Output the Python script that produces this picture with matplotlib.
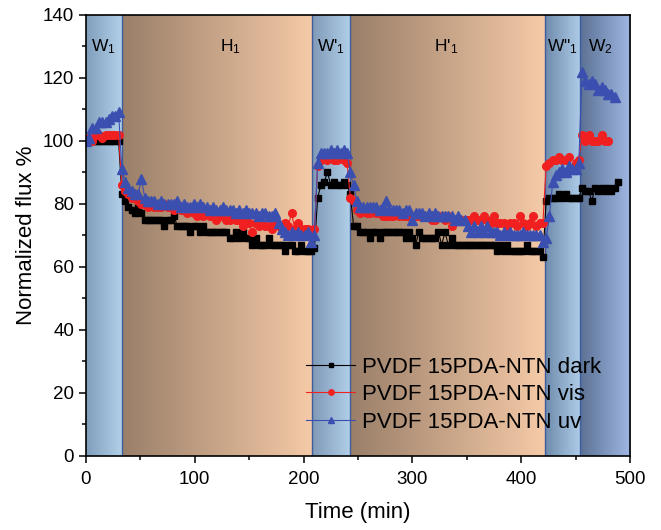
import numpy as np
import matplotlib.pyplot as plt
from matplotlib.colors import to_rgb
from matplotlib.ticker import MultipleLocator

plt.rcParams['font.family'] = ['Liberation Sans', 'DejaVu Sans']

# sampling times (min)
time = [0, 3, 6, 9, 12, 15, 18, 21, 24, 27, 30, 33, 36, 39, 42, 45, 48, 51, 54, 57,
        60, 63, 66, 69, 72, 75, 78, 81, 84, 87, 90, 93, 96, 99, 102, 105, 108, 111, 114, 117,
        120, 123, 126, 129, 132, 135, 138, 141, 144, 147, 150, 153, 156, 159, 162, 165, 168, 171, 174, 177,
        180, 183, 186, 189, 192, 195, 198, 201, 204, 207, 210, 213, 216, 219, 222, 225, 228, 231, 234, 237,
        240, 243, 246, 249, 252, 255, 258, 261, 264, 267, 270, 273, 276, 279, 282, 285, 288, 291, 294, 297,
        300, 303, 306, 309, 312, 315, 318, 321, 324, 327, 330, 333, 336, 339, 342, 345, 348, 351, 354, 357,
        360, 363, 366, 369, 372, 375, 378, 381, 384, 387, 390, 393, 396, 399, 402, 405, 408, 411, 414, 417,
        420, 423, 426, 429, 432, 435, 438, 441, 444, 447, 450, 453, 456, 459, 462, 465, 468, 471, 474, 477,
        480, 483, 486, 489]

# normalized flux (%) per stage: W1, H1, W'1, H'1, W''1, W2
dark_w1 = [100, 100, 100, 100, 100, 100, 100, 100, 100, 100, 100]
dark_h1 = [83, 81, 79, 78, 77, 79, 77, 75, 75, 75, 75, 75, 75, 73, 75, 75, 76, 73, 73, 73,
           73, 71, 73, 73, 71, 73, 71, 71, 71, 71, 71, 71, 71, 69, 69, 71, 69, 71, 69, 69,
           67, 69, 67, 67, 67, 69, 67, 67, 67, 67, 65, 67, 67, 65, 65, 67, 65, 65, 65]
dark_w1b = [66, 82, 86, 87, 90, 86, 87, 86, 86, 87, 86]
dark_h1b = [83, 73, 73, 71, 71, 71, 69, 71, 71, 69, 71, 71, 71, 71, 71, 71, 71, 69, 71, 69,
            67, 71, 69, 69, 69, 69, 69, 71, 67, 71, 67, 69, 67, 67, 67, 67, 67, 67, 67, 67,
            67, 67, 67, 67, 67, 65, 67, 65, 67, 65, 65, 65, 65, 65, 67, 65, 65, 65, 65, 63]
dark_w1c = [81, 82, 82, 82, 83, 82, 83, 82, 82, 82]
dark_w2 = [82, 85, 84, 84, 81, 85, 84, 85, 84, 85, 84, 85, 87]

vis_w1 = [100, 101, 100, 102, 102, 101, 102, 102, 102, 102, 102]
vis_h1 = [86, 84, 83, 82, 82, 81, 80, 80, 79, 80, 79, 79, 79, 80, 79, 79, 78, 79, 78, 78,
          77, 78, 77, 76, 77, 76, 77, 76, 76, 75, 76, 76, 75, 75, 76, 75, 75, 73, 75, 74,
          71, 74, 73, 74, 73, 73, 72, 74, 73, 72, 74, 73, 77, 72, 74, 72, 72, 72, 71]
vis_w1b = [72, 92, 94, 95, 94, 95, 94, 94, 95, 94, 93]
vis_h1b = [82, 81, 78, 77, 78, 77, 77, 78, 77, 77, 76, 76, 76, 76, 77, 76, 76, 76, 76, 76,
           76, 76, 76, 76, 76, 75, 75, 76, 76, 75, 76, 73, 75, 75, 75, 75, 75, 75, 76, 75,
           75, 76, 75, 74, 76, 74, 74, 74, 73, 74, 74, 73, 76, 74, 73, 74, 76, 73, 74, 74]
vis_w1c = [92, 93, 94, 94, 95, 94, 94, 95, 91, 93]
vis_w2 = [94, 102, 100, 102, 100, 100, 100, 102, 100, 100]

uv_w1 = [100, 101, 104, 104, 106, 106, 106, 107, 108, 108, 109]
uv_h1 = [91, 87, 85, 84, 83, 83, 88, 82, 81, 81, 81, 80, 81, 80, 80, 80, 80, 81, 79, 80,
         79, 79, 80, 79, 80, 79, 79, 78, 79, 78, 78, 79, 78, 78, 78, 77, 78, 77, 78, 77,
         77, 77, 76, 77, 77, 76, 76, 77, 74, 72, 71, 70, 71, 70, 71, 70, 70, 71, 68]
uv_w1b = [70, 93, 96, 96, 96, 97, 96, 97, 96, 97, 96]
uv_h1b = [90, 86, 81, 79, 79, 79, 79, 79, 79, 78, 79, 81, 78, 78, 78, 78, 77, 78, 78, 75,
          77, 77, 77, 76, 77, 76, 77, 76, 76, 76, 76, 76, 75, 76, 75, 75, 73, 71, 73, 71,
          73, 71, 73, 71, 71, 71, 70, 71, 70, 71, 70, 70, 70, 71, 70, 70, 70, 70, 70, 68]
uv_w1c = [69, 76, 87, 89, 90, 91, 90, 92, 91, 91]
uv_w2 = [93, 122, 119, 118, 119, 118, 116, 117, 116, 115, 115, 114]

dark = dark_w1 + dark_h1 + dark_w1b + dark_h1b + dark_w1c + dark_w2
vis = vis_w1 + vis_h1 + vis_w1b + vis_h1b + vis_w1c + vis_w2
uv = uv_w1 + uv_h1 + uv_w1b + uv_h1b + uv_w1c + uv_w2

# stage bands
band_edges = [0, 33, 208, 243, 422, 454, 500]
band_names = [r'W$\mathregular{_1}$', r'H$\mathregular{_1}$', r"W'$\mathregular{_1}$",
              r"H'$\mathregular{_1}$", r'W"$\mathregular{_1}$', r'W$\mathregular{_2}$']
name_x = [16, 133, 225, 331, 438, 473]
band_cols = [('#809dbb', '#b3d0ea'), ('#9a7f69', '#f5caa7'), ('#7f99b6', '#b2d0ea'),
             ('#9a7f69', '#f5caa7'), ('#6f8bac', '#adcbe7'), ('#5b7194', '#a0b8e4')]

fig = plt.figure(figsize=(6.61, 5.30), dpi=100)
ax = fig.add_axes([0.130, 0.140, 0.823, 0.832])

g = np.linspace(0, 1, 200)[:, None]
for i in range(len(band_names)):
    c0 = np.array(to_rgb(band_cols[i][0]))
    c1 = np.array(to_rgb(band_cols[i][1]))
    img = (1 - g) * c0 + g * c1
    ax.imshow(img[None, :, :], extent=[band_edges[i], band_edges[i + 1], 0, 140],
              aspect='auto', zorder=0, interpolation='bilinear')
    ax.text(name_x[i], 130, band_names[i], ha='center', va='center', fontsize=12.5)
for x in band_edges[1:-1]:
    ax.axvline(x, color='#3f5c9c', lw=1.0, zorder=1)

ax.plot(time[:len(dark)], dark, '-s', color='black', lw=0.8, ms=5,
        label='PVDF 15PDA-NTN dark', zorder=3)
ax.plot(time[:len(vis)], vis, '-o', color='#f02020', lw=0.8, ms=5.5,
        label='PVDF 15PDA-NTN vis', zorder=4)
ax.plot(time[:len(uv)], uv, '-^', color='#3b4fb0', lw=0.8, ms=7,
        label='PVDF 15PDA-NTN uv', zorder=5)

ax.set_xlim(0, 500)
ax.set_ylim(0, 140)
ax.xaxis.set_major_locator(MultipleLocator(100))
ax.xaxis.set_minor_locator(MultipleLocator(50))
ax.yaxis.set_major_locator(MultipleLocator(20))
ax.yaxis.set_minor_locator(MultipleLocator(10))
ax.tick_params(which='both', direction='out', width=1.1, labelsize=13.5)
ax.tick_params(which='major', length=5)
ax.tick_params(which='minor', length=3)
ax.tick_params(axis='x', which='major', pad=6)
for s in ax.spines.values():
    s.set_linewidth(1.2)
    s.set_zorder(6)

ax.set_xlabel('Time (min)', fontsize=16, labelpad=10)
ax.set_ylabel('Normalized flux %', fontsize=16)

ax.legend(loc='lower left', bbox_to_anchor=(0.405, 0.052), frameon=False, fontsize=16,
          numpoints=1, handlelength=2.2, handletextpad=0.3, labelspacing=0.3,
          borderpad=0, borderaxespad=0, markerscale=0.7)

plt.savefig('out.png', dpi=100)
